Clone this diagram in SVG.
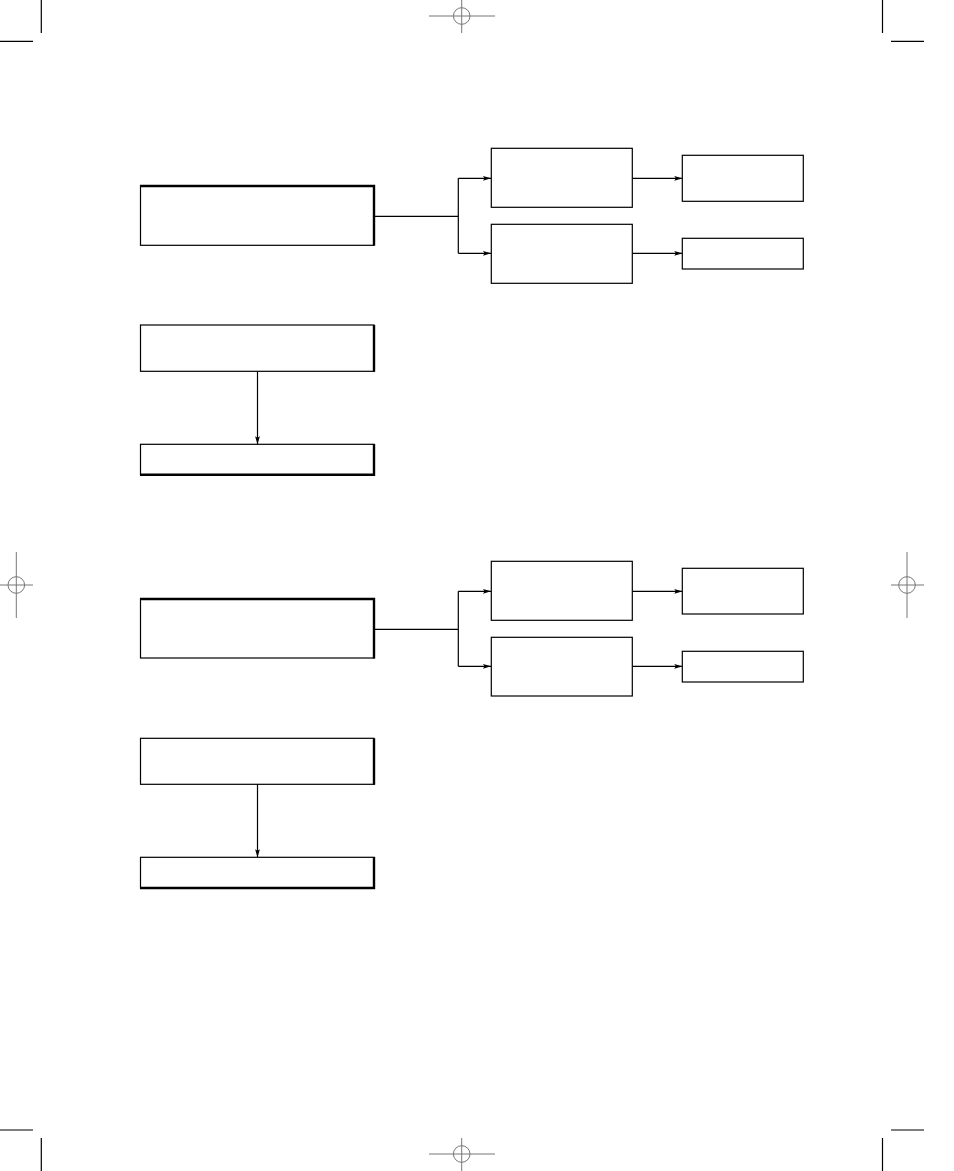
<svg xmlns="http://www.w3.org/2000/svg" width="954" height="1171" viewBox="0 0 954 1171">
<style>
.box{fill:#fff;stroke:#000;stroke-width:1.2}
.thick{stroke:#000;stroke-width:2.4;fill:none}
.conn{stroke:#000;stroke-width:1.2;fill:none}
.crop{stroke:#000;stroke-width:1.2;fill:none}
.reg{stroke:#777;stroke-width:1;fill:none}
</style>
<defs>
<marker id="ah" markerWidth="8" markerHeight="6" refX="8" refY="3" orient="auto" markerUnits="userSpaceOnUse">
<path d="M0,0.6 L8,3 L0,5.4 L1.5,3 Z" fill="#000"/>
</marker>
</defs>
<g id="marks">
<line class="crop" x1="41.3" y1="0" x2="41.3" y2="33"/>
<line class="crop" x1="0" y1="41.3" x2="33" y2="41.3"/>
<line class="crop" x1="882.5" y1="0" x2="882.5" y2="33"/>
<line class="crop" x1="891" y1="41.3" x2="924" y2="41.3"/>
<line class="crop" x1="41.3" y1="1138" x2="41.3" y2="1171"/>
<line class="crop" x1="0" y1="1130" x2="33" y2="1130"/>
<line class="crop" x1="882.5" y1="1138" x2="882.5" y2="1171"/>
<line class="crop" x1="891" y1="1130" x2="924" y2="1130"/>
<circle class="reg" cx="461.7" cy="16" r="8.3"/>
<line class="reg" x1="429" y1="16" x2="495" y2="16"/>
<line class="reg" x1="461.7" y1="0" x2="461.7" y2="33"/>
<circle class="reg" cx="16.3" cy="585" r="8.3"/>
<line class="reg" x1="0" y1="585" x2="33" y2="585"/>
<line class="reg" x1="16.3" y1="552" x2="16.3" y2="618"/>
<circle class="reg" cx="907" cy="585" r="8.3"/>
<line class="reg" x1="891" y1="585" x2="924" y2="585"/>
<line class="reg" x1="907" y1="552" x2="907" y2="618"/>
<circle class="reg" cx="461.7" cy="1154" r="8.3"/>
<line class="reg" x1="429" y1="1154" x2="495" y2="1154"/>
<line class="reg" x1="461.7" y1="1138" x2="461.7" y2="1171"/>
</g>
<g id="connectors">
<path class="conn" d="M374,216.3 H458.3 M458.3,178.3 V253.3"/>
<path class="conn" d="M458.3,178.3 H491" marker-end="url(#ah)"/>
<path class="conn" d="M458.3,253.3 H491" marker-end="url(#ah)"/>
<path class="conn" d="M632.3,178.3 H682.3" marker-end="url(#ah)"/>
<path class="conn" d="M632.3,253.3 H682.3" marker-end="url(#ah)"/>
<path class="conn" d="M257.5,371.3 V444.3" marker-end="url(#ah)"/>
<path class="conn" d="M374,629.3 H458.3 M458.3,591.3 V666.3"/>
<path class="conn" d="M458.3,591.3 H491" marker-end="url(#ah)"/>
<path class="conn" d="M458.3,666.3 H491" marker-end="url(#ah)"/>
<path class="conn" d="M632.3,591.3 H682.3" marker-end="url(#ah)"/>
<path class="conn" d="M632.3,666.3 H682.3" marker-end="url(#ah)"/>
<path class="conn" d="M257.5,784.3 V857.3" marker-end="url(#ah)"/>
</g>
<g id="n1">
<rect class="box" x="140.5" y="186" width="233.5" height="59.3"/>
<path class="thick" d="M140,186 H374 V245.5"/>
</g>
<g id="n2"><rect class="box" x="491.3" y="148.3" width="141" height="59"/></g>
<g id="n3"><rect class="box" x="491.3" y="224.3" width="141" height="59"/></g>
<g id="n4"><rect class="box" x="682.3" y="155.3" width="121" height="46"/></g>
<g id="n5"><rect class="box" x="682.3" y="238.3" width="121" height="30.7"/></g>
<g id="n6">
<rect class="box" x="140.5" y="325" width="233.5" height="46.3"/>
<path class="thick" d="M374,325 V371.8"/>
</g>
<g id="n7">
<rect class="box" x="140.5" y="444.3" width="233.5" height="30.5"/>
<path class="thick" d="M140,474.8 H374 V444"/>
</g>
<g id="n8">
<rect class="box" x="140.5" y="599" width="233.5" height="59"/>
<path class="thick" d="M140,599 H374 V658.5"/>
</g>
<g id="n9"><rect class="box" x="491.3" y="561.3" width="141" height="59"/></g>
<g id="n10"><rect class="box" x="491.3" y="637.3" width="141" height="58.7"/></g>
<g id="n11"><rect class="box" x="682.3" y="568.3" width="121" height="45.7"/></g>
<g id="n12"><rect class="box" x="682.3" y="651.3" width="121" height="30.7"/></g>
<g id="n13">
<rect class="box" x="140.5" y="738.3" width="233.5" height="46"/>
<path class="thick" d="M374,738.3 V784.8"/>
</g>
<g id="n14">
<rect class="box" x="140.5" y="857.3" width="233.5" height="30.7"/>
<path class="thick" d="M140,888 H374 V857"/>
</g>
</svg>
